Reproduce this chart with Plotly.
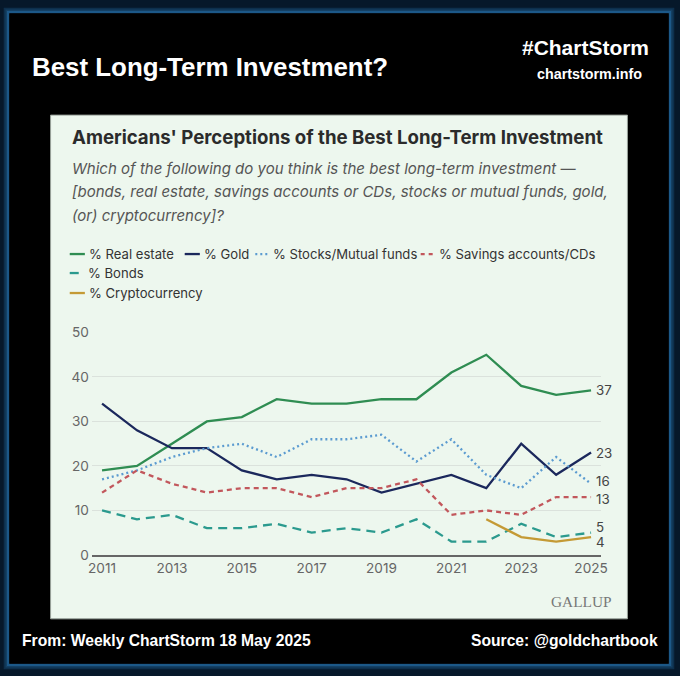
import plotly.graph_objects as go

years = list(range(2011, 2026))
real_estate = [19, 20, 25, 30, 31, 35, 34, 34, 35, 35, 41, 45, 38, 36, 37]
gold = [34, 28, 24, 24, 19, 17, 18, 17, 14, 16, 18, 15, 25, 18, 23]
stocks = [17, 19, 22, 24, 25, 22, 26, 26, 27, 21, 26, 18, 15, 22, 16]
savings = [14, 19, 16, 14, 15, 15, 13, 15, 15, 17, 9, 10, 9, 13, 13]
bonds = [10, 8, 9, 6, 6, 7, 5, 6, 5, 8, 3, 3, 7, 4, 5]
crypto_years = [2022, 2023, 2024, 2025]
crypto = [8, 4, 3, 4]

series = [
    ("% Real estate", years, real_estate, "#2f8d52", "solid", 0),
    ("% Gold", years, gold, "#1b285c", "solid", 0),
    ("% Stocks/Mutual funds", years, stocks, "#5b9bd0", "2px,3px", 3),
    ("% Savings accounts/CDs", years, savings, "#c2575c", "5px,4px", -2),
    ("% Bonds", years, bonds, "#2b9a8e", "9px,6px", 6),
    ("% Cryptocurrency", crypto_years, crypto, "#c49a35", "solid", -5),
]

W, H = 680, 676
# the captured page is slightly larger than the figure; map target pixels to figure pixels
KX, KY = (W + 16) / W, (H + 16) / H
K = KX
def fx(p):
    return p * KX - 8
def fy(p):
    return p * KY - 8
def px(x):
    return fx(x) / W
def py(y):
    return 1 - fy(y) / H
def fs(s):
    return s * K

fig = go.Figure()
for name, xs, ys, col, dash, _ in series:
    fig.add_trace(go.Scatter(x=xs, y=ys, mode="lines", name=name,
                             line=dict(color=col, width=2.3, dash=dash),
                             showlegend=False, hoverinfo="skip"))

shapes = []
# glow frame (band between outer edge and black box)
for i, (a, w) in enumerate([(0.95, 2.5), (0.6, 2), (0.35, 2)]):
    d = 1.0 + i * 1.8
    shapes.append(dict(type="rect", xref="paper", yref="paper",
                       x0=(fx(13) - d) / W, x1=(fx(667) + d) / W,
                       y0=1 - (fy(664) + d) / H, y1=1 - (fy(13) - d) / H,
                       line=dict(color=f"rgba(30,92,140,{a})", width=w),
                       fillcolor="rgba(0,0,0,0)", layer="below"))
shapes.append(dict(type="rect", xref="paper", yref="paper",
                   x0=px(13), x1=px(667), y0=py(664), y1=py(13),
                   line=dict(width=0), fillcolor="#000000", layer="below"))
# panel
shapes.append(dict(type="rect", xref="paper", yref="paper",
                   x0=px(54), x1=px(626), y0=py(619), y1=py(115),
                   line=dict(color="#9aa39b", width=1), fillcolor="#edf7ee", layer="below"))

annotations = []
def txt(x, y, s, size, color, family, xanchor="left", bold=False, italic=False):
    if bold:
        s = f"<b>{s}</b>"
    if italic:
        s = f"<i>{s}</i>"
    annotations.append(dict(x=px(x), y=py(y), xref="paper", yref="paper", text=s,
                            showarrow=False, xanchor=xanchor, yanchor="middle",
                            font=dict(size=fs(size), color=color, family=family)))

HF = "Liberation Sans, Arial, sans-serif"
PF = "Inter, Noto Sans, sans-serif"
txt(34, 67, "Best Long-Term Investment?", 25.3, "#ffffff", HF, bold=True)
txt(649, 47, "#ChartStorm", 20.5, "#ffffff", HF, xanchor="right", bold=True)
txt(642, 74, "chartstorm.info", 14, "#ffffff", HF, xanchor="right", bold=True)
txt(24, 641, "From: Weekly ChartStorm 18 May 2025", 15.3, "#ffffff", HF, bold=True)
txt(658, 641, "Source: @goldchartbook", 15.3, "#ffffff", HF, xanchor="right", bold=True)

txt(73, 137, "Americans' Perceptions of the Best Long-Term Investment", 18.2, "#2b2b2b", PF, bold=True)
sub = ["Which of the following do you think is the best long-term investment —",
       "[bonds, real estate, savings accounts or CDs, stocks or mutual funds, gold,",
       "(or) cryptocurrency]?"]
for i, s in enumerate(sub):
    txt(73, 168 + i * 23.5, s, 14.7, "#555555", PF, italic=True)

txt(580, 602, "GALLUP", 15, "#777777", "Liberation Serif, serif", xanchor="center")

# legend
leg_pos = [(73, 254), (187, 254), (257, 254), (421, 254), (73, 273), (73, 293)]
for (name, xs, ys, col, dash, _), (lx, ly) in zip(series, leg_pos):
    seglen = 14 if dash != "solid" else 15
    shapes.append(dict(type="line", xref="paper", yref="paper",
                       x0=px(lx), x1=px(lx + seglen), y0=py(ly), y1=py(ly),
                       line=dict(color=col, width=2.3, dash=dash if dash != "5px,4px" else "4px,4px")))
    txt(lx + seglen + 2, ly, name, 12.8, "#333333", PF)

# end labels
for name, xs, ys, col, dash, shift in series:
    annotations.append(dict(x=xs[-1], y=ys[-1], xref="x", yref="y", text=str(ys[-1]),
                            showarrow=False, xanchor="left", yanchor="middle",
                            xshift=3, yshift=shift,
                            font=dict(size=fs(13), color="#444444", family=PF)))

fig.update_layout(
    width=W, height=H, margin=dict(l=0, r=0, t=0, b=0),
    paper_bgcolor="#06182a", plot_bgcolor="rgba(0,0,0,0)",
    shapes=shapes, annotations=annotations, showlegend=False,
    xaxis=dict(domain=[px(95), px(600)], range=[2010.71, 2025.29],
               tickvals=list(range(2011, 2026, 2)), showgrid=False,
               showline=True, linecolor="#666666", linewidth=1.5, zeroline=False,
               ticks="", tickfont=dict(size=fs(13.3), color="#666666", family=PF)),
    yaxis=dict(domain=[py(555), py(332.3)], range=[0, 50.05],
               tickvals=list(range(0, 51, 10)), showgrid=True, gridcolor="#dbe2dc",
               gridwidth=1, zeroline=False, showline=False, ticks="",
               ticklabelstandoff=2,
               tickfont=dict(size=fs(13.3), color="#666666", family=PF)),
)
fig.write_html("out.html")
